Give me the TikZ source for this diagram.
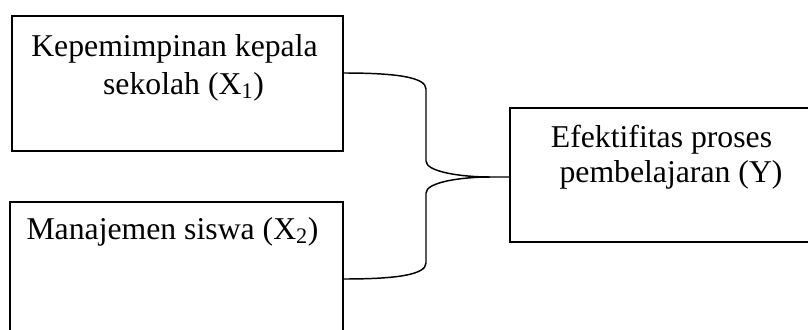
\documentclass[tikz,border=0pt]{standalone}
\usepackage{fontspec}
\setmainfont{Liberation Serif}
\begin{document}
\begin{tikzpicture}[x=0.75pt, y=-0.75pt,
  varbox/.style={draw, line width=1.3pt, anchor=north west, inner sep=0pt},
  label/.style={anchor=base, inner sep=0pt, font=\fontsize{23.8}{28}\selectfont},
  link/.style={line width=1.1pt}]
  \useasboundingbox (0,0) rectangle (808,329);
  \clip (0,0) rectangle (808,329);

  % variable boxes (the lower and right ones run past the frame)
  \node[varbox, minimum width=248.25pt, minimum height=101.25pt] (x1) at (11,15) {};
  \node[varbox, minimum width=249.75pt, minimum height=120pt] (x2) at (9,201) {};
  \node[varbox, minimum width=300pt, minimum height=100.5pt] (y) at (509,107) {};

  % box labels
  \node[label] (x1a) at (174.5,56) {Kepemimpinan kepala};
  \node[label] (x1b) at (183.5,94) {sekolah (X\textsubscript{1})};
  \node[label] (x2a) at (172.5,239) {Manajemen siswa (X\textsubscript{2})};
  \node[label] (ya) at (661.5,147) {Efektifitas proses};
  \node[label] (yb) at (671,182) {pembelajaran (Y)};

  % brace joining both predictors to the outcome
  \coordinate (s1) at (x1.east |- 0,73);
  \coordinate (s2) at (x2.east |- 0,279);
  \coordinate (tip) at (490,177);
  \coordinate (t) at (y.west |- tip);
  \draw[link] (s1) .. controls (395,73) and (426,77) .. (426,89)
    -- (426,161) .. controls (426,172) and (462,177) .. (tip) -- (t);
  \draw[link] (s2) .. controls (395,279) and (426,275) .. (426,263)
    -- (426,193) .. controls (426,182) and (462,177) .. (tip);
\end{tikzpicture}
\end{document}
